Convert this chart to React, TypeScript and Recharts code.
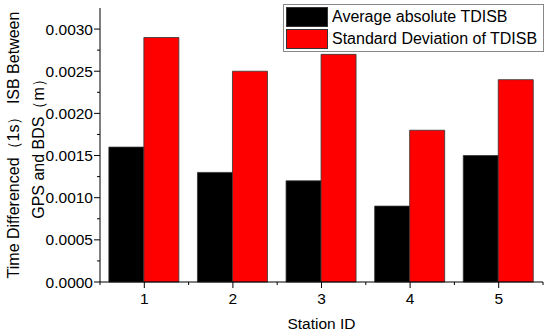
import { BarChart, Bar, XAxis, YAxis, Legend } from "recharts";

const stations = ["1", "2", "3", "4", "5"];
const avgTdisb = [0.0016, 0.0013, 0.0012, 0.0009, 0.0015];
const stdTdisb = [0.0029, 0.0025, 0.0027, 0.0018, 0.0024];
const yTicks = [
  0, 0.00025, 0.0005, 0.00075, 0.001, 0.00125, 0.0015, 0.00175, 0.002,
  0.00225, 0.0025, 0.00275, 0.003,
];
const seriesNames = ["Average absolute TDISB", "Standard Deviation of TDISB"];
const seriesColors = ["#000000", "#ff0000"];

const data = stations.map((s, i) => ({
  station: s,
  avg: avgTdisb[i],
  std: stdTdisb[i],
}));

const font = "Arial, 'Liberation Sans', sans-serif";

function YTick(props: any) {
  const { x, y, payload } = props;
  const v = payload.value;
  const major = Math.abs(Math.round(v / 0.0005) * 0.0005 - v) < 1e-9;
  return (
    <g>
      <line x1={x} x2={x - (major ? 6 : 3)} y1={y} y2={y} stroke="#000" />
      {major && (
        <text
          x={x - 7}
          y={y}
          dy="0.36em"
          textAnchor="end"
          fontSize={15.5}
          fontFamily={font}
          fill="#000"
        >
          {v.toFixed(4)}
        </text>
      )}
    </g>
  );
}

function XTick(props: any) {
  const { x, y, payload, index } = props;
  const half = payload.offset ?? 44.3;
  return (
    <g>
      <line x1={x} x2={x} y1={y} y2={y + 6} stroke="#000" />
      <line x1={x + half} x2={x + half} y1={y} y2={y + 3} stroke="#000" />
      {index === 0 && (
        <line x1={x - half} x2={x - half} y1={y} y2={y + 3} stroke="#000" />
      )}
      <text
        x={x}
        y={y + 22}
        textAnchor="middle"
        fontSize={15.5}
        fontFamily={font}
        fill="#000"
      >
        {payload.value}
      </text>
    </g>
  );
}

function YLabel(props: any) {
  const vb = props.viewBox;
  const cy = vb.y + vb.height / 2;
  return (
    <g fontSize={16} fontFamily={font} fill="#000">
      <text
        transform={`translate(13, ${cy}) rotate(-90)`}
        textAnchor="middle"
        dominantBaseline="central"
      >
        Time Differenced（1s） ISB Between
      </text>
      <text
        transform={`translate(38, ${cy}) rotate(-90)`}
        textAnchor="middle"
        dominantBaseline="central"
      >
        GPS and BDS（m）
      </text>
    </g>
  );
}

function XLabel(props: any) {
  const vb = props.viewBox;
  return (
    <text
      x={vb.x + vb.width / 2}
      y={vb.y + 47}
      textAnchor="middle"
      fontSize={15.5}
      fontFamily={font}
      fill="#000"
    >
      Station ID
    </text>
  );
}

function LegendBox() {
  return (
    <div
      style={{
        border: "1px solid #888",
        background: "#fff",
        padding: "1px 2px",
        width: 261,
        boxSizing: "border-box",
        fontFamily: font,
        fontSize: 16,
        color: "#000",
      }}
    >
      {seriesNames.map((name, i) => (
        <div
          key={name}
          style={{ display: "flex", alignItems: "center", height: 22 }}
        >
          <div
            style={{
              width: 42,
              height: 20,
              background: seriesColors[i],
              border: "1px solid #333",
              boxSizing: "border-box",
              marginRight: 4,
            }}
          />
          <span>{name}</span>
        </div>
      ))}
    </div>
  );
}

export default function App() {
  return (
    <div style={{ position: "absolute", left: 0, top: 0, background: "#fff" }}>
      <BarChart
        width={550}
        height={335}
        data={data}
        margin={{ top: 8, right: 7, left: 0, bottom: 0 }}
        barCategoryGap="10%"
        barGap={0}
      >
        <XAxis
          dataKey="station"
          height={53}
          tickLine={false}
          tickSize={0}
          tickMargin={0}
          tick={<XTick />}
          interval={0}
          axisLine={{ stroke: "#000" }}
          label={<XLabel />}
        />
        <YAxis
          width={100}
          domain={[0, 0.00325]}
          ticks={yTicks}
          interval={0}
          tickLine={false}
          tickSize={0}
          tickMargin={0}
          tick={<YTick />}
          axisLine={{ stroke: "#000" }}
          label={<YLabel />}
        />
        <Legend
          layout="vertical"
          align="center"
          verticalAlign="middle"
          content={<LegendBox />}
          wrapperStyle={{ position: "absolute", left: 283, top: 4, width: 262 }}
        />
        <Bar
          dataKey="avg"
          name={seriesNames[0]}
          fill={seriesColors[0]}
          stroke="#333"
          strokeWidth={0.8}
          isAnimationActive={false}
        />
        <Bar
          dataKey="std"
          name={seriesNames[1]}
          fill={seriesColors[1]}
          stroke="#333"
          strokeWidth={0.8}
          isAnimationActive={false}
        />
      </BarChart>
    </div>
  );
}
